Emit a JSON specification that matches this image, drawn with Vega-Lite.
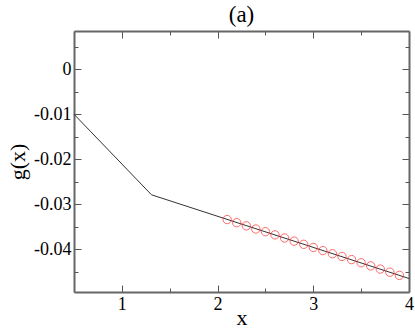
{
  "$schema": "https://vega.github.io/schema/vega-lite/v6.json",
  "width": 335,
  "height": 261,
  "autosize": "none",
  "padding": {"left": 74, "top": 31, "right": 6, "bottom": 36},
  "title": {"text": "(a)", "font": "Liberation Serif", "fontSize": 23, "fontWeight": "normal", "offset": 4, "color": "black"},
  "config": {
    "view": {"stroke": null},
    "axis": {"labelFont": "Liberation Serif", "titleFont": "Liberation Serif", "titleFontWeight": "normal", "labelColor": "black", "titleColor": "black", "domainColor": "#666", "domainWidth": 2, "tickColor": "#555", "tickWidth": 1, "grid": false}
  },
  "datasets": {
    "curve": [
      {"x": 0.5, "g": -0.0100},
      {"x": 1.31, "g": -0.0279},
      {"x": 4.0, "g": -0.0465}
    ],
    "pts": [
      {"x": 2.1, "g": -0.0334},
      {"x": 2.2, "g": -0.0341},
      {"x": 2.3, "g": -0.0348},
      {"x": 2.4, "g": -0.0355},
      {"x": 2.5, "g": -0.0361},
      {"x": 2.6, "g": -0.0368},
      {"x": 2.7, "g": -0.0375},
      {"x": 2.8, "g": -0.0382},
      {"x": 2.9, "g": -0.0389},
      {"x": 3.0, "g": -0.0396},
      {"x": 3.1, "g": -0.0403},
      {"x": 3.2, "g": -0.0410},
      {"x": 3.3, "g": -0.0416},
      {"x": 3.4, "g": -0.0423},
      {"x": 3.5, "g": -0.0430},
      {"x": 3.6, "g": -0.0437},
      {"x": 3.7, "g": -0.0444},
      {"x": 3.8, "g": -0.0451},
      {"x": 3.9, "g": -0.0458}
    ]
  },
  "layer": [
    {
      "data": {"name": "curve"},
      "mark": {"type": "line", "color": "#333", "strokeWidth": 1},
      "encoding": {
        "x": {"field": "x", "type": "quantitative", "scale": {"domain": [0.5, 4], "nice": false, "zero": false},
          "axis": {"orient": "bottom", "values": [1, 2, 3, 4], "tickSize": -7, "labelFontSize": 18, "labelPadding": 10, "title": "x", "titleFontSize": 22, "titlePadding": -6, "labelFlush": false}},
        "y": {"field": "g", "type": "quantitative", "scale": {"domain": [-0.0495, 0.0085], "nice": false, "zero": false},
          "axis": {"orient": "left", "values": [0, -0.01, -0.02, -0.03, -0.04], "labelExpr": "datum.value == 0 ? '0' : '-0.0' + round(-datum.value * 100)", "tickSize": -7, "labelFontSize": 18, "labelPadding": 10, "title": "g(x)", "titleFontSize": 22, "titlePadding": 4, "labelFlush": false}}
      }
    },
    {
      "data": {"name": "pts"},
      "mark": {"type": "point", "shape": "circle", "filled": false, "color": "#ff2a2a", "strokeWidth": 1, "size": 70},
      "encoding": {
        "x": {"field": "x", "type": "quantitative",
          "axis": {"orient": "bottom", "values": [0.5, 1.5, 2.5, 3.5], "tickSize": -4, "labels": false, "title": null, "domain": false}},
        "y": {"field": "g", "type": "quantitative",
          "axis": {"orient": "left", "values": [0.005, -0.005, -0.015, -0.025, -0.035, -0.045], "tickSize": -4, "labels": false, "title": null, "domain": false}}
      }
    },
    {
      "data": {"name": "curve"},
      "mark": {"type": "line", "opacity": 0},
      "encoding": {
        "x": {"field": "x", "type": "quantitative",
          "axis": {"orient": "top", "values": [1, 2, 3, 4], "tickSize": -7, "labels": false, "title": null}},
        "y": {"field": "g", "type": "quantitative",
          "axis": {"orient": "right", "values": [0, -0.01, -0.02, -0.03, -0.04], "tickSize": -7, "labels": false, "title": null}}
      }
    },
    {
      "data": {"name": "pts"},
      "mark": {"type": "point", "opacity": 0},
      "encoding": {
        "x": {"field": "x", "type": "quantitative",
          "axis": {"orient": "top", "values": [0.5, 1.5, 2.5, 3.5], "tickSize": -4, "labels": false, "title": null, "domain": false}},
        "y": {"field": "g", "type": "quantitative",
          "axis": {"orient": "right", "values": [0.005, -0.005, -0.015, -0.025, -0.035, -0.045], "tickSize": -4, "labels": false, "title": null, "domain": false}}
      }
    }
  ],
  "resolve": {"axis": {"x": "independent", "y": "independent"}}
}
